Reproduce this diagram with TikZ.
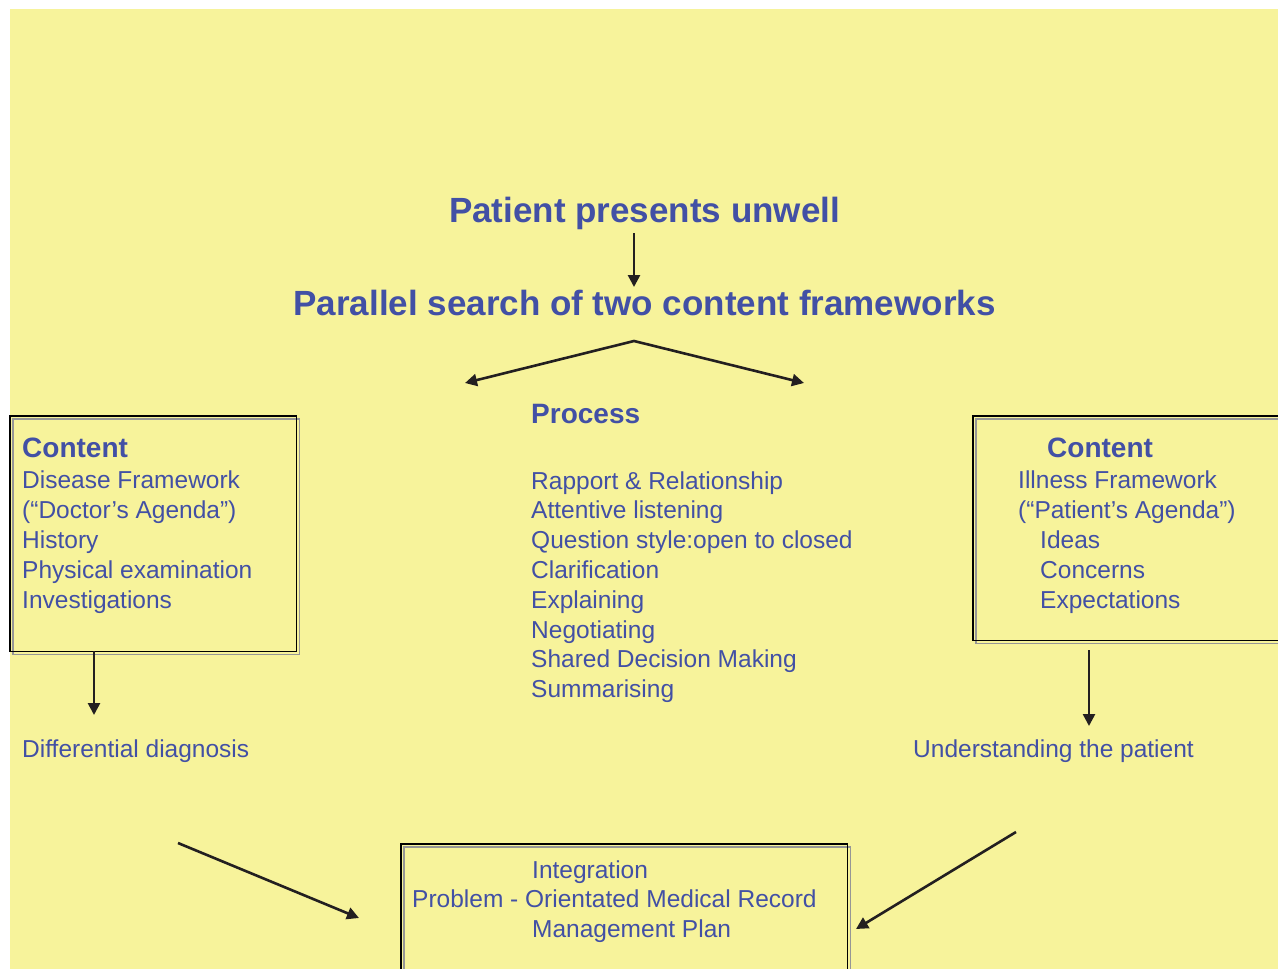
\documentclass[tikz,border=0pt]{standalone}
\usepackage{fontspec}
\setmainfont{Liberation Sans}
\usetikzlibrary{arrows.meta}
\definecolor{bgyellow}{RGB}{247,243,155}
\definecolor{tblue}{RGB}{66,80,165}
\definecolor{arrowblack}{RGB}{35,31,32}
\definecolor{shadowgray}{RGB}{150,150,150}
\begin{document}
\begin{tikzpicture}[x=1pt,y=-1pt,
  title/.style={font=\fontsize{35}{40}\selectfont\bfseries, text=tblue, anchor=base, inner sep=0},
  head/.style={font=\fontsize{28}{32}\selectfont\bfseries, text=tblue, anchor=base west, inner sep=0},
  txt/.style={font=\fontsize{24.5}{30}\selectfont, text=tblue, anchor=base west, inner sep=0},
  arr/.style={draw=arrowblack, line width=2.6pt, -{Triangle[length=12pt,width=12pt]}},
  framebox/.style={draw=none, rectangle, inner sep=0, anchor=north west},
  shadowframe/.style={draw=shadowgray, line width=1.6pt}]

\useasboundingbox (0,0) rectangle (1278,969);
\fill[white] (0,0) rectangle (1278,969);
\fill[bgyellow] (10,9) rectangle (1278,969);

% boxes
\node[framebox, minimum width=286, minimum height=235] (lbox) at (10,416) {};
\node[framebox, minimum width=330, minimum height=224] (rbox) at (973,416) {};
\node[framebox, minimum width=446, minimum height=150] (bbox) at (401,844) {};
\foreach \b in {lbox,rbox,bbox}{
  \draw[shadowframe] ([shift={(3,3)}]\b.north west) rectangle ([shift={(3,3)}]\b.south east);
  \draw[black, line width=1.6pt] (\b.north west) rectangle (\b.south east);
}

% titles
\node[title] (t1) at (644.5,222) {Patient presents unwell};
\node[title] (t2) at (644.5,315) {Parallel search of two content frameworks};

% process
\node[head] (proc) at (531,423) {Process};
\foreach \t [count=\i] in {{Rapport \& Relationship},{Attentive listening},{Question style:open to closed},{Clarification},{Explaining},{Negotiating},{Shared Decision Making},{Summarising}}
  \node[txt] (p\i) at (531,{489+29.8*(\i-1)}) {\t};

% left box content
\node[head] (lhead) at (22,457) {Content};
\foreach \t [count=\i] in {{Disease Framework},{(“Doctor’s Agenda”)},{History},{Physical examination},{Investigations}}
  \node[txt] (l\i) at (22,{488+30*(\i-1)}) {\t};

% right box content
\node[head] (rhead) at (1047,457) {Content};
\node[txt] (r1) at (1018,488) {Illness Framework};
\node[txt] (r2) at (1018,518) {(“Patient’s Agenda”)};
\node[txt] (r3) at (1040,548) {Ideas};
\node[txt] (r4) at (1040,578) {Concerns};
\node[txt] (r5) at (1040,608) {Expectations};

% outcomes
\node[txt] (dd) at (22,757) {Differential diagnosis};
\node[txt] (up) at (913,757) {Understanding the patient};

% bottom box
\node[txt] (b1) at (532,878) {Integration};
\node[txt] (b2) at (412,907) {Problem - Orientated Medical Record};
\node[txt] (b3) at (532,937) {Management Plan};

% connectors
\coordinate (a1s) at (634,233);
\coordinate (a1e) at (634,287);
\draw[arr] (a1s) -- (a1e);

\coordinate (apex) at (634,341);
\coordinate (bl) at (465,383);
\coordinate (brr) at (804,383);
\draw[arr, {Triangle[length=12pt,width=12pt]}-{Triangle[length=12pt,width=12pt]}, line join=miter] (bl) -- (apex) -- (brr);

\coordinate (ldd) at (94,715);
\draw[arr] (lbox.south -| ldd) -- (ldd);

\coordinate (rds) at (1089,650);
\coordinate (rdd) at (1089,726);
\draw[arr] (rds) -- (rdd);

\coordinate (dl1) at (178,843);
\coordinate (dl2) at (359,918);
\draw[arr] (dl1) -- (dl2);

\coordinate (dr1) at (1016,832);
\coordinate (dr2) at (856,929);
\draw[arr] (dr1) -- (dr2);
\end{tikzpicture}
\end{document}
